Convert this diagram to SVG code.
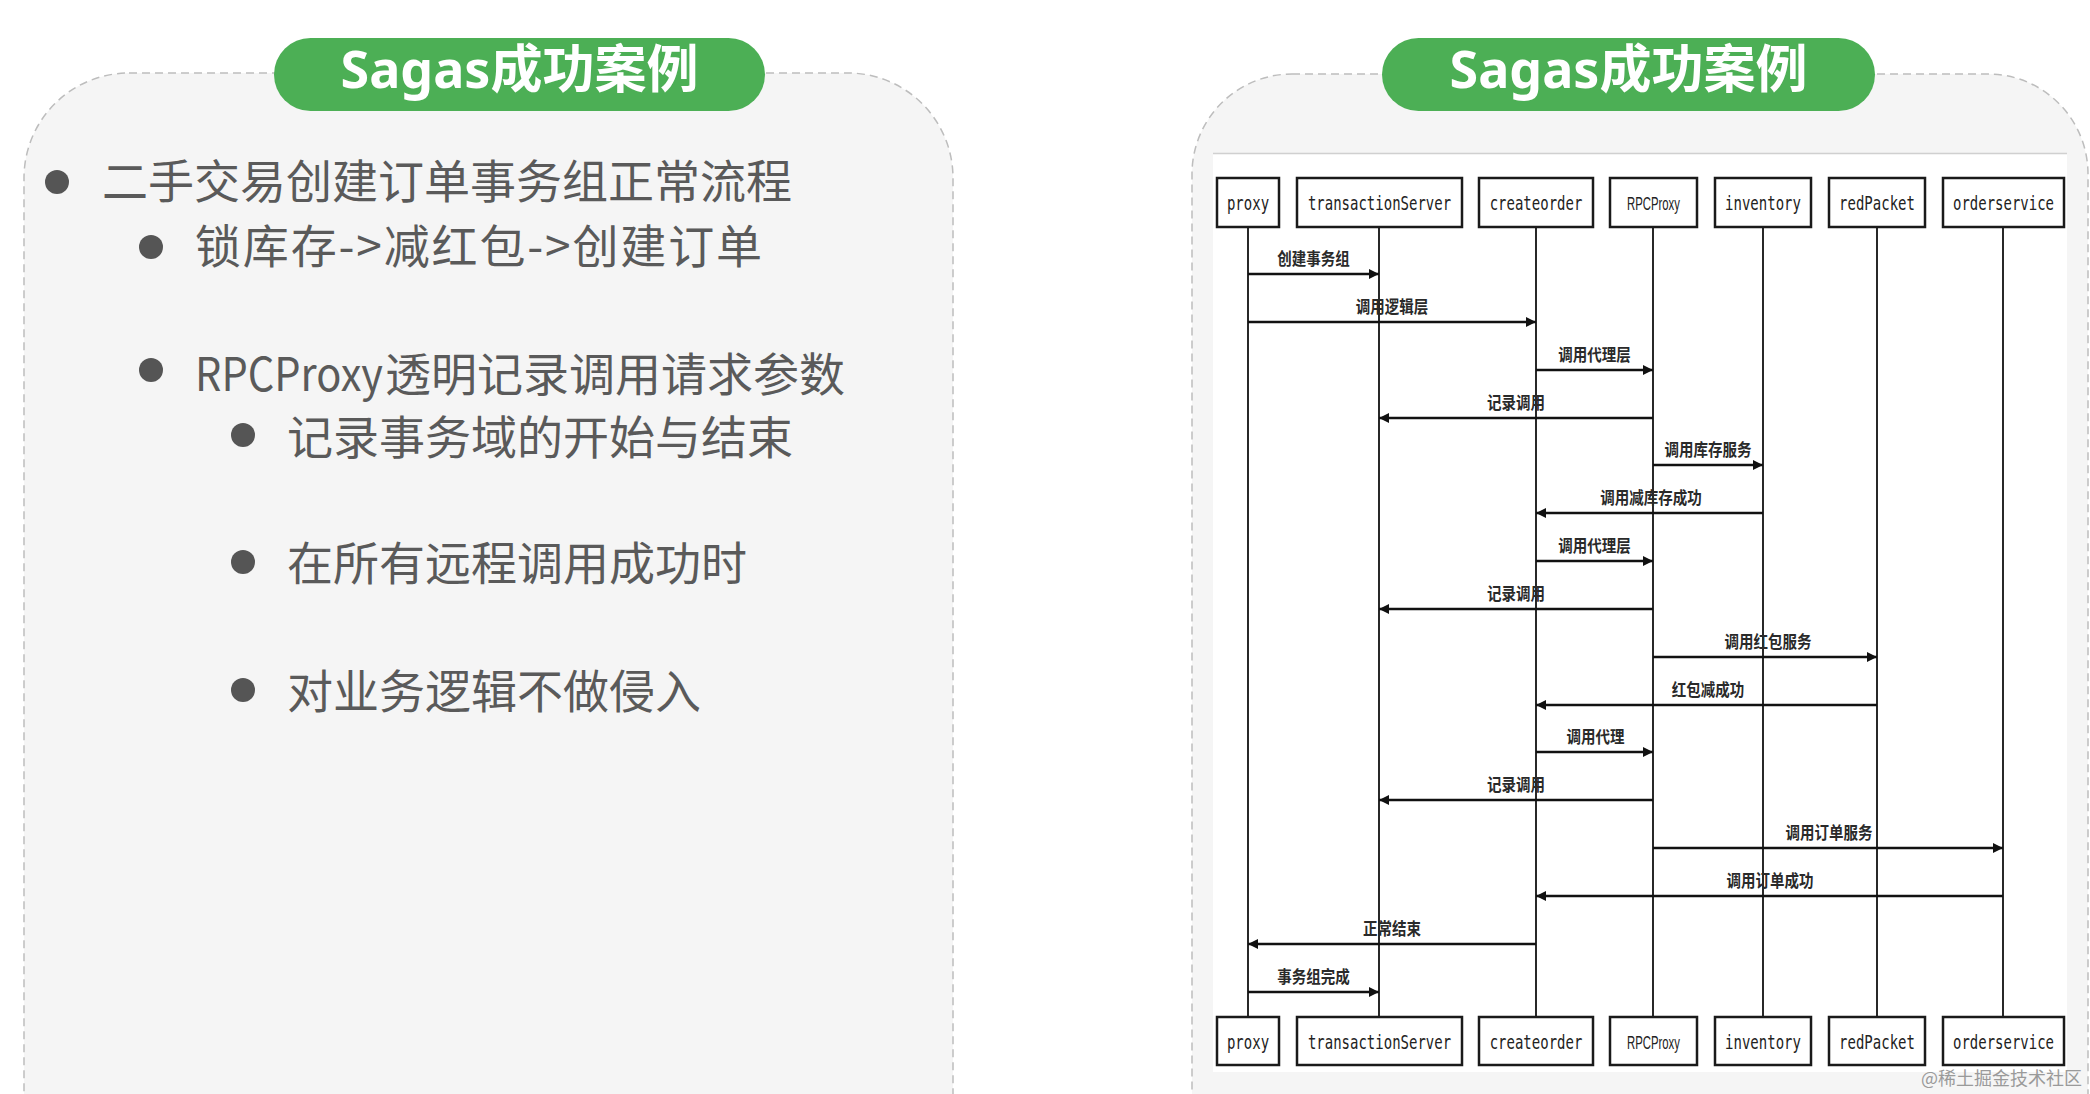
<svg xmlns="http://www.w3.org/2000/svg" width="2090" height="1094" viewBox="0 0 2090 1094">
<defs>
<style>
.panel{fill:#f5f5f5;stroke:#bdbdbd;stroke-width:1.5;stroke-dasharray:8 5}
.pill{fill:#4caf55}
.pilltxt{font-family:"Noto Sans","Noto Sans CJK SC",sans-serif;font-weight:700;font-size:52px;fill:#fff;text-anchor:middle}
.dot{fill:#555}
.bt{font-family:"Noto Sans CJK SC","Noto Sans",sans-serif;font-size:46px;fill:#5a5a5a}
.box{fill:#fff;stroke:#1a1a1a;stroke-width:2.5}
.bx{font-family:"DejaVu Sans Mono",monospace;font-size:20px;fill:#222;text-anchor:middle}
.bxs{font-family:"Liberation Sans",sans-serif;font-size:18px;fill:#222;text-anchor:middle}
.life{stroke:#111;stroke-width:1.8}
.msg{stroke:#111;stroke-width:2.6;fill:none;marker-end:url(#ah)}
.ml{font-family:"Noto Sans CJK SC",sans-serif;font-size:17px;font-weight:700;fill:#2a2a2a;text-anchor:middle}
</style>
<marker id="ah" markerUnits="userSpaceOnUse" markerWidth="11" markerHeight="11" refX="10" refY="5" orient="auto"><path d="M0,0 L10,5 L0,10 z" fill="#111"/></marker>
</defs>
<rect width="2090" height="1094" fill="#fff"/>

<g id="left-panel">
<rect class="panel" x="24" y="73" width="929" height="1150" rx="105"/>
<rect class="pill" x="274" y="38" width="491" height="73" rx="36.5"/>
<text class="pilltxt" x="519.5" y="88">Sagas成功案例</text>
<circle class="dot" cx="57" cy="182" r="12"/>
<text class="bt" x="102" y="198">二手交易创建订单事务组正常流程</text>
<circle class="dot" cx="151" cy="247" r="12"/>
<text class="bt" x="195" y="263" textLength="567" lengthAdjust="spacing">锁库存-&gt;减红包-&gt;创建订单</text>
<circle class="dot" cx="151" cy="370" r="12"/>
<g id="rpcproxy-line">
<text class="bt" x="195" y="391" textLength="188" lengthAdjust="spacingAndGlyphs">RPCProxy</text>
<text class="bt" x="385" y="391">透明记录调用请求参数</text>
</g>
<circle class="dot" cx="243" cy="435" r="12"/>
<text class="bt" x="287" y="454">记录事务域的开始与结束</text>
<circle class="dot" cx="243" cy="562" r="12"/>
<text class="bt" x="287" y="580">在所有远程调用成功时</text>
<circle class="dot" cx="243" cy="690" r="12"/>
<text class="bt" x="287" y="708">对业务逻辑不做侵入</text>
</g>

<g id="right-panel">
<rect class="panel" x="1192" y="74" width="896" height="1150" rx="100"/>
<rect x="1213" y="153" width="854" height="919" fill="#fff"/>
<line x1="1213" y1="153.5" x2="2067" y2="153.5" stroke="#d0d0d0" stroke-width="1.5"/>
<rect class="pill" x="1382" y="38" width="493" height="73" rx="36.5"/>
<text class="pilltxt" x="1628.5" y="88">Sagas成功案例</text>
</g>

<g id="p-proxy">
<line class="life" x1="1248" y1="227" x2="1248" y2="1017"/>
<rect class="box" x="1217" y="178" width="62" height="49"/>
<text class="bx" transform="translate(1248 210) scale(0.7 1)">proxy</text>
<rect class="box" x="1217" y="1017" width="62" height="48"/>
<text class="bx" transform="translate(1248 1049) scale(0.7 1)">proxy</text>
</g>
<g id="p-transactionServer">
<line class="life" x1="1379" y1="227" x2="1379" y2="1017"/>
<rect class="box" x="1297" y="178" width="165" height="49"/>
<text class="bx" transform="translate(1379.5 210) scale(0.7 1)">transactionServer</text>
<rect class="box" x="1297" y="1017" width="165" height="48"/>
<text class="bx" transform="translate(1379.5 1049) scale(0.7 1)">transactionServer</text>
</g>
<g id="p-createorder">
<line class="life" x1="1536" y1="227" x2="1536" y2="1017"/>
<rect class="box" x="1479" y="178" width="114" height="49"/>
<text class="bx" transform="translate(1536 210) scale(0.7 1)">createorder</text>
<rect class="box" x="1479" y="1017" width="114" height="48"/>
<text class="bx" transform="translate(1536 1049) scale(0.7 1)">createorder</text>
</g>
<g id="p-RPCProxy">
<line class="life" x1="1653" y1="227" x2="1653" y2="1017"/>
<rect class="box" x="1610" y="178" width="87" height="49"/>
<text class="bxs" transform="translate(1653.5 210) scale(0.63 1)">RPCProxy</text>
<rect class="box" x="1610" y="1017" width="87" height="48"/>
<text class="bxs" transform="translate(1653.5 1049) scale(0.63 1)">RPCProxy</text>
</g>
<g id="p-inventory">
<line class="life" x1="1763" y1="227" x2="1763" y2="1017"/>
<rect class="box" x="1715" y="178" width="96" height="49"/>
<text class="bx" transform="translate(1763 210) scale(0.7 1)">inventory</text>
<rect class="box" x="1715" y="1017" width="96" height="48"/>
<text class="bx" transform="translate(1763 1049) scale(0.7 1)">inventory</text>
</g>
<g id="p-redPacket">
<line class="life" x1="1877" y1="227" x2="1877" y2="1017"/>
<rect class="box" x="1829" y="178" width="96" height="49"/>
<text class="bx" transform="translate(1877 210) scale(0.7 1)">redPacket</text>
<rect class="box" x="1829" y="1017" width="96" height="48"/>
<text class="bx" transform="translate(1877 1049) scale(0.7 1)">redPacket</text>
</g>
<g id="p-orderservice">
<line class="life" x1="2003" y1="227" x2="2003" y2="1017"/>
<rect class="box" x="1943" y="178" width="121" height="49"/>
<text class="bx" transform="translate(2003.5 210) scale(0.7 1)">orderservice</text>
<rect class="box" x="1943" y="1017" width="121" height="48"/>
<text class="bx" transform="translate(2003.5 1049) scale(0.7 1)">orderservice</text>
</g>

<g id="connectors">
<line class="msg" x1="1248" y1="274" x2="1379" y2="274"/>
<text class="ml" x="1313.5" y="265" textLength="72.5" lengthAdjust="spacingAndGlyphs">创建事务组</text>
<line class="msg" x1="1248" y1="322" x2="1536" y2="322"/>
<text class="ml" x="1392" y="313" textLength="72.5" lengthAdjust="spacingAndGlyphs">调用逻辑层</text>
<line class="msg" x1="1536" y1="370" x2="1653" y2="370"/>
<text class="ml" x="1594.5" y="361" textLength="72.5" lengthAdjust="spacingAndGlyphs">调用代理层</text>
<line class="msg" x1="1653" y1="418" x2="1379" y2="418"/>
<text class="ml" x="1516" y="409" textLength="58" lengthAdjust="spacingAndGlyphs">记录调用</text>
<line class="msg" x1="1653" y1="465" x2="1763" y2="465"/>
<text class="ml" x="1708" y="456" textLength="87" lengthAdjust="spacingAndGlyphs">调用库存服务</text>
<line class="msg" x1="1763" y1="513" x2="1536" y2="513"/>
<text class="ml" x="1651" y="504" textLength="101.5" lengthAdjust="spacingAndGlyphs">调用减库存成功</text>
<line class="msg" x1="1536" y1="561" x2="1653" y2="561"/>
<text class="ml" x="1594.5" y="552" textLength="72.5" lengthAdjust="spacingAndGlyphs">调用代理层</text>
<line class="msg" x1="1653" y1="609" x2="1379" y2="609"/>
<text class="ml" x="1516" y="600" textLength="58" lengthAdjust="spacingAndGlyphs">记录调用</text>
<line class="msg" x1="1653" y1="657" x2="1877" y2="657"/>
<text class="ml" x="1768" y="648" textLength="87" lengthAdjust="spacingAndGlyphs">调用红包服务</text>
<line class="msg" x1="1877" y1="705" x2="1536" y2="705"/>
<text class="ml" x="1708" y="696" textLength="72.5" lengthAdjust="spacingAndGlyphs">红包减成功</text>
<line class="msg" x1="1536" y1="752" x2="1653" y2="752"/>
<text class="ml" x="1595.5" y="743" textLength="58" lengthAdjust="spacingAndGlyphs">调用代理</text>
<line class="msg" x1="1653" y1="800" x2="1379" y2="800"/>
<text class="ml" x="1516" y="791" textLength="58" lengthAdjust="spacingAndGlyphs">记录调用</text>
<line class="msg" x1="1653" y1="848" x2="2003" y2="848"/>
<text class="ml" x="1829" y="839" textLength="87" lengthAdjust="spacingAndGlyphs">调用订单服务</text>
<line class="msg" x1="2003" y1="896" x2="1536" y2="896"/>
<text class="ml" x="1770" y="887" textLength="87" lengthAdjust="spacingAndGlyphs">调用订单成功</text>
<line class="msg" x1="1536" y1="944" x2="1248" y2="944"/>
<text class="ml" x="1392" y="935" textLength="58" lengthAdjust="spacingAndGlyphs">正常结束</text>
<line class="msg" x1="1248" y1="992" x2="1379" y2="992"/>
<text class="ml" x="1313.5" y="983" textLength="72.5" lengthAdjust="spacingAndGlyphs">事务组完成</text>
</g>

<text x="2082" y="1085" font-family="'Noto Sans CJK SC',sans-serif" font-size="18" fill="#9a9a9a" text-anchor="end">@稀土掘金技术社区</text>
</svg>
